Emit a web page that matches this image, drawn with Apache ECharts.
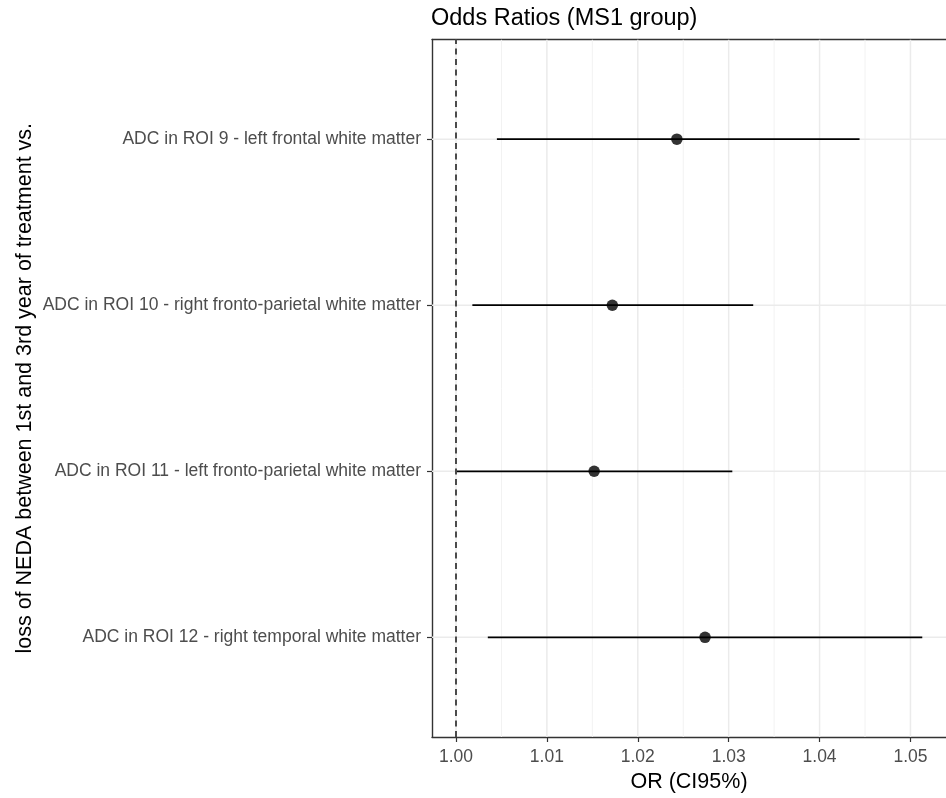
<!DOCTYPE html>
<html><head><meta charset="utf-8">
<script src="https://cdn.jsdelivr.net/npm/echarts@6/dist/echarts.min.js"></script>
<style>html,body{margin:0;padding:0;background:#fff}#c{width:946px;height:798px}</style>
</head><body><div id="c"></div>
<script>
// ---- data ----
const categories = [
  "ADC in ROI 12 - right temporal white matter",
  "ADC in ROI 11 - left fronto-parietal white matter",
  "ADC in ROI 10 - right fronto-parietal white matter",
  "ADC in ROI 9 - left frontal white matter"
];
const rowPositions = [1, 2, 3, 4];
const orValues = [1.0274, 1.0152, 1.0172, 1.0243];
const ciLower  = [1.0035, 1.0001, 1.0018, 1.0045];
const ciUpper  = [1.0513, 1.0304, 1.0327, 1.0444];
const xTicks = [1.00, 1.01, 1.02, 1.03, 1.04, 1.05];
const xMinorTicks = [1.005, 1.015, 1.025, 1.035, 1.045];
const refValue = 1.00;
const xRange = [0.99736, 1.05391];
const yRange = [0.4, 4.6];

const FONT = 'Liberation Sans';
const chart = echarts.init(document.getElementById('c'), null, {renderer: 'canvas'});

function vLineItem(color, width) {
  return function (params, api) {
    const cs = params.coordSys;
    const x = api.coord([api.value(0), yRange[0]])[0];
    return {type: 'line', shape: {x1: x, y1: cs.y, x2: x, y2: cs.y + cs.height},
      style: {stroke: color, lineWidth: width}, silent: true};
  };
}
function hLineItem(color, width) {
  return function (params, api) {
    const cs = params.coordSys;
    const y = api.coord([xRange[0], api.value(1)])[1];
    return {type: 'line', shape: {x1: cs.x, y1: y, x2: cs.x + cs.width, y2: y},
      style: {stroke: color, lineWidth: width}, silent: true};
  };
}
const borderLine = {show: true, lineStyle: {color: '#333', width: 1.4}};

chart.setOption({
  animation: false,
  backgroundColor: '#fff',
  textStyle: {fontFamily: FONT},
  title: {
    text: 'Odds Ratios (MS1 group)', left: 431, top: 7, padding: 0,
    textStyle: {fontFamily: FONT, fontSize: 23.5, fontWeight: 'normal', color: '#000'}
  },
  grid: {left: 432, right: 0, top: 39.5, bottom: 61, show: false},
  xAxis: [{
    type: 'value', min: xRange[0], max: xRange[1], position: 'bottom',
    name: 'OR (CI95%)', nameLocation: 'middle', nameGap: 32,
    nameTextStyle: {fontFamily: FONT, fontSize: 21.5, color: '#000'},
    axisLine: borderLine,
    axisTick: {show: true, customValues: xTicks, length: 5, lineStyle: {color: '#333', width: 1.2}},
    axisLabel: {customValues: xTicks, margin: 11, fontSize: 17.5, color: '#4D4D4D', fontFamily: FONT,
      formatter: v => v.toFixed(2)},
    splitLine: {show: false}
  }, {
    type: 'value', min: xRange[0], max: xRange[1], position: 'top',
    axisLine: borderLine, axisTick: {show: false}, axisLabel: {show: false}, splitLine: {show: false}
  }],
  yAxis: {
    type: 'value', min: yRange[0], max: yRange[1],
    name: 'loss of NEDA between 1st and 3rd year of treatment vs.',
    nameLocation: 'middle', nameRotate: 90, nameGap: 396, nameMoveOverlap: false,
    nameTextStyle: {fontFamily: FONT, fontSize: 21.5, color: '#000'},
    axisLine: borderLine,
    axisTick: {show: true, customValues: rowPositions, length: 5, lineStyle: {color: '#333', width: 1.2}},
    axisLabel: {customValues: rowPositions, margin: 11, fontSize: 17.5, color: '#4D4D4D', fontFamily: FONT,
      formatter: v => categories[Math.round(v) - 1] || ''},
    splitLine: {show: false}
  },
  series: [
    {type: 'custom', name: 'minorGrid', z: 1, silent: true, clip: true,
      data: xMinorTicks.map(v => [v, 2.5]), encode: {x: 0, y: 1},
      renderItem: vLineItem('#F2F2F2', 1)},
    {type: 'custom', name: 'majorGridX', z: 1, silent: true, clip: true,
      data: xTicks.map(v => [v, 2.5]), encode: {x: 0, y: 1},
      renderItem: vLineItem('#EBEBEB', 1.5)},
    {type: 'custom', name: 'majorGridY', z: 1, silent: true, clip: true,
      data: rowPositions.map(r => [1.02, r]), encode: {x: 0, y: 1},
      renderItem: hLineItem('#EBEBEB', 1.5)},
    {type: 'custom', name: 'CI', z: 3, silent: true,
      data: rowPositions.map((r, i) => [ciLower[i], ciUpper[i], r]),
      encode: {x: [0, 1], y: 2},
      renderItem: function (params, api) {
        const p1 = api.coord([api.value(0), api.value(2)]);
        const p2 = api.coord([api.value(1), api.value(2)]);
        return {type: 'line', shape: {x1: p1[0], y1: p1[1], x2: p2[0], y2: p2[1]},
          style: {stroke: '#000', lineWidth: 1.8}};
      },
      markLine: {silent: true, symbol: 'none', label: {show: false},
        lineStyle: {color: '#222', width: 1.6, type: [6, 4.5]},
        data: [{xAxis: refValue}]}
    },
    {type: 'scatter', name: 'OR', z: 4, symbol: 'circle', symbolSize: 11.5,
      itemStyle: {color: '#000'},
      data: rowPositions.map((r, i) => [orValues[i], r])}
  ]
});
</script></body></html>
